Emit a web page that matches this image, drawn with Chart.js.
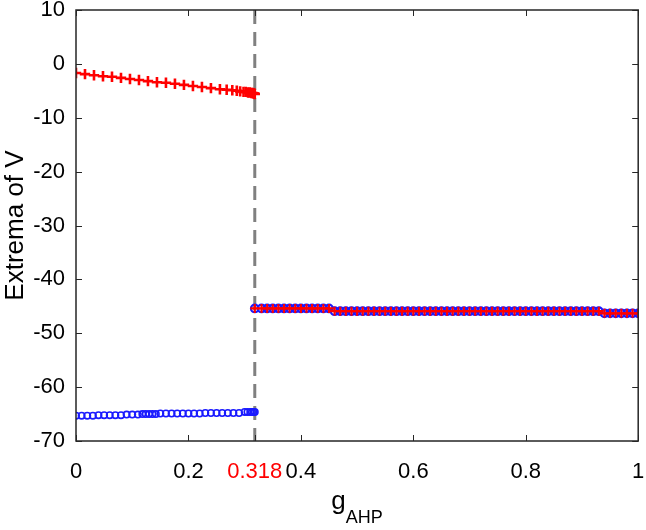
<!DOCTYPE html>
<html><head><meta charset="utf-8">
<script src="https://cdn.jsdelivr.net/npm/chart.js@4/dist/chart.umd.min.js"></script>
<style>html,body{margin:0;padding:0;background:#fff}</style></head>
<body><canvas id="c" width="646" height="530"></canvas>
<script>
const xTicks = [0, 0.2, 0.318, 0.4, 0.6, 0.8, 1];
const yTicks = [10, 0, -10, -20, -30, -40, -50, -60, -70];
const threshold = 0.318;
const yTitle = 'Extrema of V';
const xTitleMain = 'g';
const xTitleSub = 'AHP';

// maxima (red +) before the threshold
const maxX = [0,0.016,0.032,0.048,0.064,0.08,0.096,0.112,0.128,0.144,0.16,0.176,0.192,0.208,0.224,0.24,0.256,0.268,0.278,0.286,0.292,0.298,0.302,0.306,0.309,0.312,0.314,0.316,0.317,0.318];
const maxY = [-1.7,-1.9,-2.1,-2.3,-2.4,-2.6,-2.8,-3.0,-3.2,-3.4,-3.5,-3.7,-3.9,-4.1,-4.3,-4.5,-4.7,-4.8,-4.9,-5.0,-5.1,-5.2,-5.2,-5.3,-5.3,-5.4,-5.4,-5.5,-5.5,-5.6];
// minima (blue o) before the threshold
const minX = [0,0.01,0.02,0.03,0.04,0.05,0.06,0.07,0.08,0.09,0.1,0.11,0.118,0.124,0.13,0.136,0.142,0.15,0.16,0.17,0.18,0.19,0.2,0.21,0.22,0.23,0.24,0.25,0.26,0.27,0.28,0.29,0.3,0.305,0.31,0.313,0.316,0.318];
const minY = [-65.3,-65.3,-65.3,-65.3,-65.2,-65.2,-65.2,-65.2,-65.2,-65.1,-65.1,-65.1,-65.0,-65.0,-65.0,-65.0,-65.0,-64.9,-64.9,-64.9,-64.9,-64.9,-64.9,-64.9,-64.9,-64.8,-64.8,-64.8,-64.8,-64.8,-64.8,-64.8,-64.6,-64.6,-64.6,-64.6,-64.6,-64.6];
// after the threshold maxima and minima coincide
const rightX = [0.318,0.33,0.34,0.35,0.36,0.37,0.38,0.39,0.4,0.41,0.42,0.43,0.44,0.45,0.46,0.47,0.48,0.49,0.5,0.51,0.52,0.53,0.54,0.55,0.56,0.57,0.58,0.59,0.6,0.61,0.62,0.63,0.64,0.65,0.66,0.67,0.68,0.69,0.7,0.71,0.72,0.73,0.74,0.75,0.76,0.77,0.78,0.79,0.8,0.81,0.82,0.83,0.84,0.85,0.86,0.87,0.88,0.89,0.9,0.91,0.92,0.93,0.94,0.95,0.96,0.97,0.98,0.99,1.0];
const rightY = [-45.4,-45.4,-45.4,-45.4,-45.4,-45.4,-45.4,-45.4,-45.4,-45.4,-45.4,-45.4,-45.4,-45.4,-45.9,-45.9,-45.9,-45.9,-45.9,-45.9,-45.9,-45.9,-45.9,-45.9,-45.9,-45.9,-45.9,-45.9,-45.9,-45.9,-45.9,-45.9,-45.9,-45.9,-45.9,-45.9,-45.9,-45.9,-45.9,-45.9,-45.9,-45.9,-45.9,-45.9,-45.9,-45.9,-45.9,-45.9,-45.9,-45.9,-45.9,-45.9,-45.9,-45.9,-45.9,-45.9,-45.9,-45.9,-45.9,-45.9,-45.9,-45.9,-46.3,-46.3,-46.3,-46.3,-46.3,-46.3,-46.3];

const pts = (xs, ys) => xs.map((x, i) => ({x: x, y: ys[i]}));
const FONT = '"Liberation Sans", Arial, sans-serif';
const AX = '#262626';

const frame = {
  id: 'frame',
  afterDraw(chart) {
    const {ctx, chartArea: a, scales} = chart;
    ctx.save();
    ctx.strokeStyle = AX;
    ctx.lineWidth = 1.5;
    ctx.strokeRect(a.left, a.top, a.right - a.left, a.bottom - a.top);
    ctx.lineWidth = 1;
    const L = 6;
    ctx.beginPath();
    xTicks.forEach(v => {
      const px = Math.round(scales.x.getPixelForValue(v)) + 0.5;
      ctx.moveTo(px, a.bottom); ctx.lineTo(px, a.bottom - L);
      ctx.moveTo(px, a.top); ctx.lineTo(px, a.top + L);
    });
    yTicks.forEach(v => {
      const py = Math.round(scales.y.getPixelForValue(v)) + 0.5;
      ctx.moveTo(a.left, py); ctx.lineTo(a.left + L, py);
      ctx.moveTo(a.right, py); ctx.lineTo(a.right - L, py);
    });
    ctx.stroke();
    // x title with subscript
    ctx.fillStyle = '#000';
    ctx.textBaseline = 'alphabetic';
    ctx.textAlign = 'left';
    ctx.font = '26px ' + FONT;
    const w1 = ctx.measureText(xTitleMain).width;
    ctx.font = '18px ' + FONT;
    const w2 = ctx.measureText(xTitleSub).width;
    const cx = (a.left + a.right) / 2;
    const x0 = cx - (w1 + w2) / 2;
    ctx.font = '26px ' + FONT;
    ctx.fillText(xTitleMain, x0, 509);
    ctx.font = '18px ' + FONT;
    ctx.fillText(xTitleSub, x0 + w1, 523);
    ctx.restore();
  }
};

new Chart(document.getElementById('c'), {
  type: 'scatter',
  data: {
    datasets: [
      {label: 'max right', data: pts(rightX, rightY), pointStyle: 'cross', pointRadius: 4.5, borderColor: '#ff0000', backgroundColor: '#ff0000', pointBorderWidth: 2.2, order: 1},
      {label: 'min right', data: pts(rightX, rightY), pointStyle: 'circle', pointRadius: 3.8, borderColor: '#1a1aff', backgroundColor: 'rgba(0,0,0,0)', pointBorderWidth: 2.2, order: 2},
      {label: 'max left', data: pts(maxX, maxY), pointStyle: 'cross', pointRadius: 5.2, borderColor: '#ff0000', backgroundColor: '#ff0000', pointBorderWidth: 2.6, order: 1},
      {label: 'min left', data: pts(minX, minY), pointStyle: 'circle', pointRadius: 3.2, borderColor: '#1a1aff', backgroundColor: 'rgba(0,0,0,0)', pointBorderWidth: 1.6, order: 2},
      {label: 'threshold', type: 'line', data: [{x: threshold, y: yTicks[0]}, {x: threshold, y: yTicks[yTicks.length - 1]}], borderColor: '#808080', borderWidth: 3, borderDash: [14, 8], pointRadius: 0, showLine: true, order: 3}
    ]
  },
  options: {
    responsive: false,
    animation: false,
    layout: {padding: {left: 0, right: 7, top: 10, bottom: 0}},
    plugins: {legend: {display: false}, tooltip: {enabled: false}},
    scales: {
      x: {
        type: 'linear', min: 0, max: 1,
        afterBuildTicks: s => { s.ticks = xTicks.map(v => ({value: v})); },
        afterFit: s => { s.height = 89; s.paddingLeft = 0; s.paddingRight = 0; },
        grid: {display: false, drawTicks: false},
        border: {display: false},
        ticks: {
          padding: 18,
          font: {family: FONT, size: 22},
          color: c => (c.tick && c.tick.value === threshold) ? '#ff0000' : '#000000',
          callback: v => String(v),
          maxRotation: 0, autoSkip: false
        }
      },
      y: {
        type: 'linear', min: -70, max: 10,
        afterBuildTicks: s => { s.ticks = yTicks.map(v => ({value: v})); },
        afterFit: s => { s.width = 76; s.paddingTop = 0; s.paddingBottom = 0; },
        grid: {display: false, drawTicks: false},
        border: {display: false},
        ticks: {padding: 11, font: {family: FONT, size: 22}, color: '#000'},
        title: {display: true, text: yTitle, font: {family: FONT, size: 26}, color: '#000', padding: {top: 0, bottom: 0}}
      }
    }
  },
  plugins: [frame]
});
</script></body></html>
